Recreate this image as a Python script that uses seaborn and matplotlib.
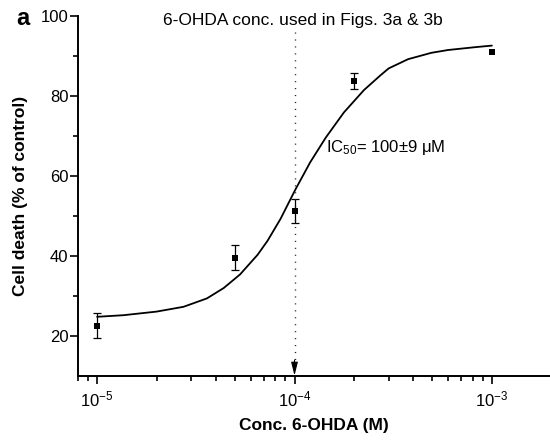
import numpy as np
import pandas as pd
import matplotlib
matplotlib.use("Agg")
import matplotlib.pyplot as plt
import seaborn as sns
from matplotlib.ticker import LogLocator, FixedLocator, NullFormatter

# ---- data ----
conc = [1e-5, 5e-5, 1e-4, 2e-4, 1e-3]
death = [22.6, 39.6, 51.2, 83.8, 90.9]
sem = [3.2, 3.2, 3.0, 2.0, 0.0]

fit_conc = [1e-5, 1.36e-5, 2.0e-5, 2.74e-5, 3.6e-5, 4.38e-5, 5.3e-5, 6.5e-5,
            7.3e-5, 8.5e-5, 1.01e-4, 1.2e-4, 1.44e-4, 1.78e-4, 2.25e-4,
            2.73e-4, 3.0e-4, 3.76e-4, 4.94e-4, 6.0e-4, 8.2e-4, 1e-3]
fit_death = [24.8, 25.2, 26.1, 27.3, 29.4, 32.0, 35.4, 40.3,
             43.8, 49.3, 56.6, 63.4, 69.6, 75.9, 81.5,
             85.2, 86.9, 89.2, 90.8, 91.5, 92.2, 92.6]

used_conc = 1e-4
y_major = [20, 40, 60, 80, 100]
y_minor = [30, 50, 70, 90]

title_text = "6-OHDA conc. used in Figs. 3a & 3b"
ic50_text = "IC$_{50}$= 100\u00b19 \u03bcM"
xlabel = "Conc. 6-OHDA (M)"
ylabel = "Cell death (% of control)"
panel = "a"

pts = pd.DataFrame({"conc": conc, "death": death, "sem": sem})
fit = pd.DataFrame({"conc": fit_conc, "death": fit_death})
eb = pts[pts["sem"] > 0]

sns.set_style("ticks")
plt.rcParams["font.family"] = ["Liberation Sans", "DejaVu Sans"]
plt.rcParams["mathtext.fontset"] = "custom"
plt.rcParams["mathtext.rm"] = "Liberation Sans"
plt.rcParams["mathtext.it"] = "Liberation Sans:italic"
plt.rcParams["mathtext.bf"] = "Liberation Sans:bold"
plt.rcParams["text.color"] = "black"
plt.rcParams["axes.labelcolor"] = "black"
plt.rcParams["xtick.color"] = "black"
plt.rcParams["ytick.color"] = "black"

fig = plt.figure(figsize=(5.5, 4.42), dpi=100)
ax = fig.add_axes([78 / 550, 66 / 442, 472 / 550, 360 / 442])

sns.lineplot(data=fit, x="conc", y="death", ax=ax, color="black", lw=1.3,
             estimator=None, sort=False)
ax.errorbar(eb["conc"], eb["death"], yerr=eb["sem"], fmt="none", ecolor="black",
            elinewidth=0.9, capsize=2.8, capthick=0.9)
sns.scatterplot(data=pts, x="conc", y="death", ax=ax, marker="s", s=22,
                color="black", edgecolor="black", linewidth=0, zorder=5)

ax.set_xscale("log")
ax.set_xlim(8.0e-6, 1.97e-3)
ax.set_ylim(10, 100)

# dotted marker line with arrow
ax.plot([used_conc, used_conc], [96, 13], color="#222222", lw=1.0,
        linestyle=(0, (0.8, 4.2)))
ax.annotate("", xy=(used_conc, 10.1), xytext=(used_conc, 14),
            arrowprops=dict(arrowstyle="-|>,head_length=0.8,head_width=0.2",
                            color="black", lw=0.8, shrinkA=0, shrinkB=0))

ax.yaxis.set_major_locator(FixedLocator(y_major))
ax.yaxis.set_minor_locator(FixedLocator(y_minor))
ax.xaxis.set_major_locator(LogLocator(base=10, numticks=10))
ax.xaxis.set_minor_locator(LogLocator(base=10, subs=np.arange(2, 10), numticks=20))
ax.xaxis.set_minor_formatter(NullFormatter())

for s in ["top", "right"]:
    ax.spines[s].set_visible(False)
for s in ["left", "bottom"]:
    ax.spines[s].set_linewidth(1.4)
    ax.spines[s].set_color("black")

ax.tick_params(axis="both", which="major", length=6, width=1.2, color="black",
               labelsize=12, labelcolor="black")
ax.tick_params(axis="both", which="minor", length=3.5, width=1.2, color="black")
ax.tick_params(axis="y", which="major", pad=1)
ax.tick_params(axis="x", which="major", pad=4)

ax.set_xlabel(xlabel, fontsize=12.5, fontweight="bold", color="black")
ax.set_ylabel(ylabel, fontsize=12.5, fontweight="bold", color="black")
ax.xaxis.set_label_coords(0.5, -0.118)
ax.yaxis.set_label_coords(-0.105, 0.5)

ax.text(1.45e-4, 66, ic50_text, fontsize=12, va="baseline", ha="left",
        color="black")
fig.text(303 / 550, 1 - 25 / 442, title_text, fontsize=12.5, ha="center",
         va="baseline", color="black")
fig.text(16 / 550, 1 - 25 / 442, panel, fontsize=17, fontweight="bold",
         ha="left", va="baseline", color="black")

fig.savefig("out.png", dpi=100)
